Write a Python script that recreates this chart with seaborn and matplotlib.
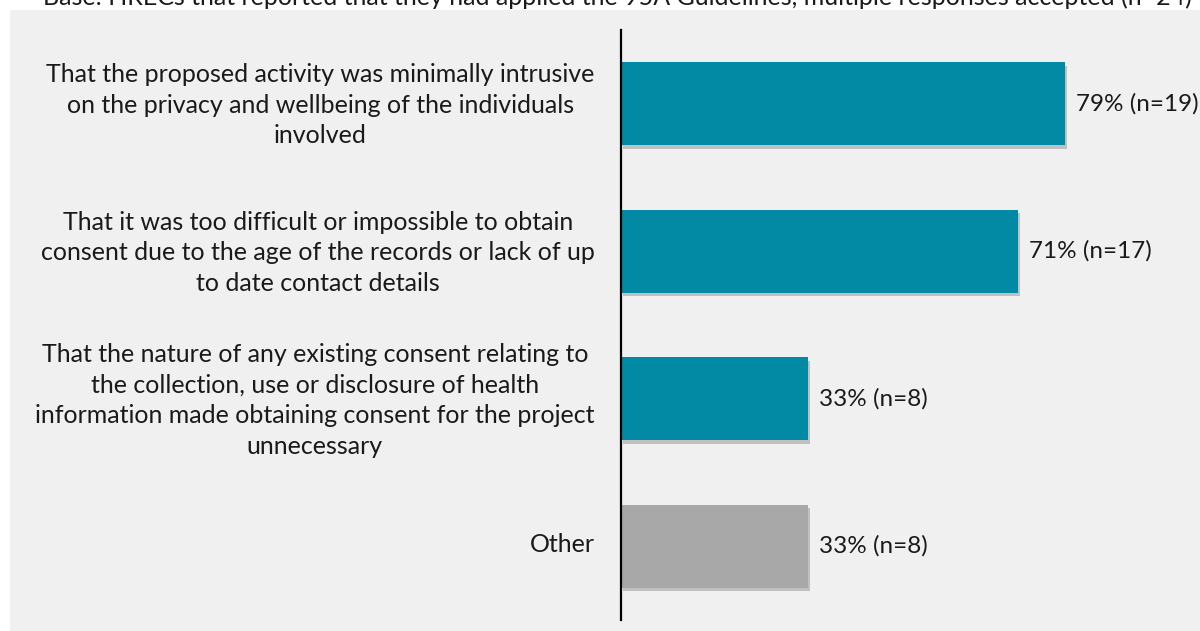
import matplotlib
matplotlib.use("Agg")
import matplotlib.pyplot as plt
import matplotlib.patheffects as pe
import matplotlib.transforms as mtransforms
from matplotlib.patches import Rectangle
import seaborn as sns
import pandas as pd

# Survey responses
categories = [
    "That the proposed activity was minimally intrusive\non the privacy and wellbeing of the individuals\ninvolved",
    "That it was too difficult or impossible to obtain\nconsent due to the age of the records or lack of up\nto date contact details",
    "That the nature of any existing consent relating to\nthe collection, use or disclosure of health\ninformation made obtaining consent for the project\nunnecessary",
    "Other",
]
counts = [19, 17, 8, 8]
base_n = 24
percents = [c / base_n * 100 for c in counts]
value_labels = ["79% (n=19)", "71% (n=17)", "33% (n=8)", "33% (n=8)"]
bar_colors = ["#028aa4", "#028aa4", "#028aa4", "#a8a8a8"]
subtitle = "Base: HRECs that reported that they had applied the 95A Guidelines, multiple responses accepted (n=24)"

sns.set_theme(style="white")
plt.rcParams["font.family"] = ["Lato", "DejaVu Sans"]

df = pd.DataFrame({"category": categories, "percent": percents})

fig = plt.figure(figsize=(12, 6.31), dpi=100)
fig.patch.set_facecolor("white")
fig.patches.append(Rectangle((10 / 1200, 0), 1 - 10 / 1200, 1 - 10 / 631,
                             transform=fig.transFigure, facecolor="#f0f0f0",
                             edgecolor="none", zorder=-10))

ax = fig.add_axes([621 / 1200, 1 - 620 / 631, 561 / 1200, 590 / 631])
ax.set_facecolor("none")

sns.barplot(data=df, x="percent", y="category", hue="category",
            palette=bar_colors, legend=False, width=0.56, orient="h",
            saturation=1, linewidth=0, ax=ax)

for patch in ax.patches:
    patch.set_edgecolor("none")
    patch.set_path_effects([
        pe.SimplePatchShadow(offset=(1.5, -2.5), shadow_rgbFace="black", alpha=0.2),
        pe.Normal(),
    ])

for container, lab in zip(ax.containers, value_labels):
    ax.bar_label(container, labels=[lab], padding=8, fontsize=17.5, color="#1a1a1a")

ax.set_xlim(0, 100)
ax.set_ylim(3.5, -0.5)
ax.set_xlabel("")
ax.set_ylabel("")
ax.set_xticks([])
ax.tick_params(axis="y", length=0, pad=19, labelsize=18, labelcolor="#1a1a1a")
nudge_up = mtransforms.ScaledTranslation(0, 3 / 72, fig.dpi_scale_trans)
for t in ax.get_yticklabels():
    t.set_multialignment("center")
    t.set_linespacing(1.4)
    t.set_transform(t.get_transform() + nudge_up)

for side in ["top", "right", "bottom"]:
    ax.spines[side].set_visible(False)
ax.spines["left"].set_color("black")
ax.spines["left"].set_linewidth(1.6)

fig.text(617 / 1200, 1 - 5 / 631, subtitle, ha="center", va="baseline",
         fontsize=18, color="#1a1a1a")

fig.savefig("out.png", dpi=100)
